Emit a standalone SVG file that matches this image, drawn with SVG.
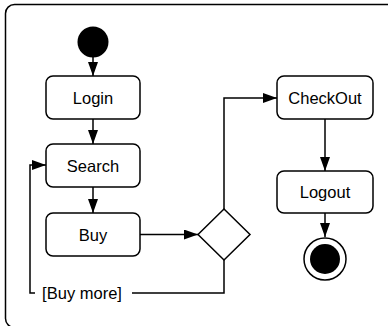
<svg xmlns="http://www.w3.org/2000/svg" width="388" height="326" viewBox="0 0 388 326">
<defs>
<marker id="arr" markerUnits="userSpaceOnUse" markerWidth="16" markerHeight="12" refX="14" refY="5" orient="auto">
<path d="M0,0 L14,5 L0,10 Z" fill="#000"/>
</marker>
<style>
.box{fill:#fff;stroke:#000;stroke-width:1.5}
.lbl{font-family:"Liberation Sans",Arial,Helvetica,sans-serif;font-size:16.5px;fill:#000;text-anchor:middle}
.edge{fill:none;stroke:#000;stroke-width:1.5}
</style>
</defs>
<rect x="5.5" y="4.5" width="400" height="323" rx="9" fill="#fff" stroke="#000" stroke-width="1.5"/>
<g id="connectors">
<path class="edge" d="M93,57 L93,76" marker-end="url(#arr)"/>
<path class="edge" d="M93,119 L93,144" marker-end="url(#arr)"/>
<path class="edge" d="M93,187 L93,213" marker-end="url(#arr)"/>
<path class="edge" d="M140,234.5 L198,234.5" marker-end="url(#arr)"/>
<path class="edge" d="M224,209 L224,98 L277,98" marker-end="url(#arr)"/>
<path class="edge" d="M325,119 L325,171" marker-end="url(#arr)"/>
<path class="edge" d="M325,213 L325,237" marker-end="url(#arr)"/>
<path class="edge" d="M224,260 L224,293 L30,293 L30,165 L46,165" marker-end="url(#arr)"/>
<g id="buymore-label">
<rect x="35" y="284" width="97" height="18" fill="#fff"/>
<text class="lbl" x="82" y="299">[Buy more]</text>
</g>
</g>
<g id="initial"><circle cx="93" cy="42" r="15.5" fill="#000"/></g>
<g id="login"><rect class="box" x="46" y="76" width="94" height="43" rx="7"/><text class="lbl" x="93" y="103.5">Login</text></g>
<g id="search"><rect class="box" x="46" y="144" width="94" height="43" rx="7"/><text class="lbl" x="93" y="171.5">Search</text></g>
<g id="buy"><rect class="box" x="46" y="213" width="94" height="43" rx="7"/><text class="lbl" x="93" y="240.5">Buy</text></g>
<g id="decision"><path class="box" d="M198,234.5 L224,209 L250,234.5 L224,260 Z"/></g>
<g id="checkout"><rect class="box" x="277" y="76" width="96" height="43" rx="7"/><text class="lbl" x="325" y="103.5">CheckOut</text></g>
<g id="logout"><rect class="box" x="277" y="171" width="96" height="42" rx="7"/><text class="lbl" x="325" y="198">Logout</text></g>
<g id="final"><circle cx="325" cy="259" r="21" fill="#fff" stroke="#000" stroke-width="1.5"/><circle cx="325" cy="259" r="15" fill="#000"/></g>
</svg>
